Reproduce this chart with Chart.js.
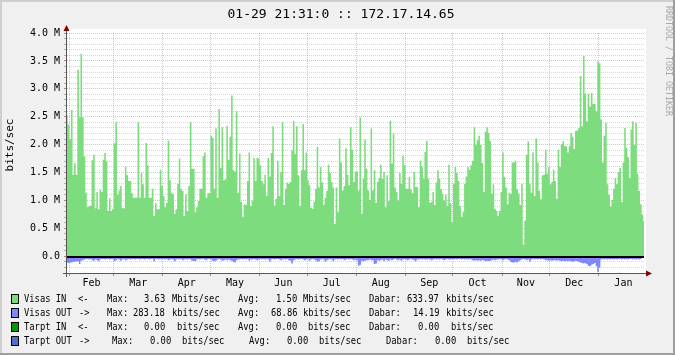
<!DOCTYPE html>
<html>
<head>
<meta charset="utf-8">
<title>01-29 21:31:0 :: 172.17.14.65</title>
<script src="https://cdn.jsdelivr.net/npm/chart.js@4.4.1/dist/chart.umd.min.js"></script>
<style>
  html, body { margin: 0; padding: 0; background: #f0f0f0; }
  canvas { display: block; }
</style>
</head>
<body>
<canvas id="trafficChart" width="675" height="355" style="width:675px;height:355px"></canvas>
<script>
// daily averages, Jan 30 .. Jan 29, in Mbits/sec
const visasIn = [
    2.52, 2.36, 2.10, 2.62, 1.46, 1.67, 1.46, 3.34, 2.49, 3.63,
    2.49, 1.79, 1.14, 0.88, 0.90, 0.91, 1.72, 1.82, 0.86, 1.15,
    0.84, 1.19, 1.15, 1.73, 1.85, 1.70, 0.81, 1.04, 0.81, 0.85,
    2.02, 2.40, 1.10, 1.18, 1.26, 0.86, 0.86, 1.60, 1.45, 1.35,
    1.35, 1.13, 1.05, 1.05, 1.05, 2.40, 1.05, 1.49, 1.29, 1.05,
    2.03, 1.63, 1.05, 1.05, 1.21, 0.72, 0.95, 0.84, 0.84, 1.55,
    1.26,
    1.08, 0.88, 0.96, 2.07, 1.36, 1.14, 1.11, 0.76, 0.84, 1.30,
    1.75, 1.21, 1.17, 0.72, 1.11, 0.81, 1.26, 2.40, 1.57, 1.57,
    0.79, 0.88, 0.99, 1.21, 1.21, 1.79, 1.86, 1.05, 1.13, 1.13,
    2.16, 2.12, 1.21, 2.29, 1.05, 2.64, 1.58, 2.31, 1.36, 1.38,
    2.34, 1.73, 2.14, 2.88, 1.54, 1.52, 2.60, 1.14, 1.84, 0.97,
    0.71, 0.93, 0.92, 1.35, 1.86, 0.90, 1.00, 1.76, 1.35, 1.76,
    1.75,
    1.63, 1.35, 1.29, 1.46, 1.08, 1.76, 1.43, 1.85, 2.33, 0.91,
    1.03, 1.71, 1.08, 1.51, 2.40, 0.92, 1.21, 1.32, 1.30, 1.33,
    1.90, 2.43, 1.83, 2.33, 1.45, 0.90, 1.54, 2.37, 1.54, 1.86,
    1.36, 1.27, 0.87, 0.85, 0.97, 1.21, 1.96, 1.23, 1.60, 1.32,
    0.92, 1.05, 1.17, 1.64, 1.49, 1.33, 1.23, 0.58, 1.23, 0.79,
    2.11, 1.68, 1.18, 1.26, 1.93, 1.46, 1.27, 2.31, 1.91, 1.33,
    1.52,
    1.52, 1.18, 2.49, 0.76, 1.39, 2.09, 1.57, 1.18, 1.01, 2.29,
    1.18, 1.54, 0.96, 1.33, 1.40, 1.64, 1.39, 1.51, 0.88, 1.45,
    0.99, 2.43, 1.66, 2.20, 1.23, 1.15, 1.00, 1.49, 1.30, 1.80,
    1.63, 1.21, 1.21, 1.42, 1.20, 1.13, 1.51, 1.24, 1.24, 0.88,
    1.71, 1.61, 1.39, 1.87, 2.07, 1.39, 0.96, 0.97, 1.15, 0.92,
    1.32, 1.54, 1.39, 1.20, 1.11, 1.00, 1.10, 0.90, 1.64, 0.95,
    0.61, 1.30, 1.60, 1.49, 1.35, 0.90, 0.71, 0.79, 1.30, 1.43,
    1.60, 1.55, 1.63, 1.71, 2.31, 2.00, 2.08, 2.16, 2.00, 1.67,
    1.15, 2.23, 2.31, 2.21, 2.07, 1.12, 1.29, 0.85, 0.81, 0.72,
    0.81, 1.15, 1.86, 1.42, 1.23, 0.93, 1.14, 1.12, 1.68, 1.68,
    1.71, 1.20, 1.12, 0.92, 1.30, 0.21, 0.64, 1.82, 2.06, 1.30,
    1.14, 1.86, 1.08, 2.11, 1.68, 1.17, 1.02, 1.45, 1.46, 1.91,
    1.48, 1.60, 1.29, 1.33, 1.55, 1.35, 1.03, 1.91, 1.60, 2.01,
    2.06, 1.97, 1.97, 1.86, 1.97, 2.21, 2.14, 1.92, 2.25, 2.25,
    2.30, 3.23, 2.33, 3.59, 2.91, 2.42, 2.91, 2.68, 2.93, 2.73,
    2.73, 2.60, 3.49,
    3.46, 2.45, 1.68, 2.16, 2.39, 1.29, 1.10, 0.89, 1.01, 1.21,
    1.40, 1.29, 1.51, 1.58, 0.97, 1.68, 2.30, 1.94, 1.78, 1.40,
    2.27, 2.42, 2.00, 2.39, 1.48, 1.17, 0.93, 0.75, 0.63
];

// outgoing is drawn below zero, like rrdtool does it
const visasOut = [
    -0.11, -0.12, -0.11, -0.11, -0.10, -0.10, -0.09, -0.09, -0.14, -0.08,
    -0.07, -0.06, -0.05, -0.05, -0.06, -0.05, -0.07, -0.08, -0.06, -0.07,
    -0.09, -0.06, -0.05, -0.05, -0.06, -0.05, -0.05, -0.06, -0.05, -0.05,
    -0.09, -0.07, -0.05, -0.06, -0.08, -0.06, -0.05, -0.07, -0.06, -0.05,
    -0.06, -0.05, -0.05, -0.06, -0.05, -0.05, -0.06, -0.05, -0.05, -0.06,
    -0.05, -0.05, -0.06, -0.05, -0.05, -0.09, -0.05, -0.05, -0.06, -0.05,
    -0.06,
    -0.05, -0.06, -0.05, -0.07, -0.06, -0.05, -0.06, -0.09, -0.06, -0.05,
    -0.06, -0.05, -0.07, -0.06, -0.05, -0.06, -0.05, -0.06, -0.08, -0.08,
    -0.09, -0.06, -0.05, -0.06, -0.05, -0.05, -0.06, -0.07, -0.05, -0.05,
    -0.06, -0.08, -0.09, -0.08, -0.06, -0.05, -0.06, -0.08, -0.07, -0.06,
    -0.07, -0.06, -0.07, -0.08, -0.10, -0.11, -0.07, -0.06, -0.06, -0.05,
    -0.06, -0.05, -0.06, -0.05, -0.08, -0.06, -0.06, -0.05, -0.06, -0.07,
    -0.06,
    -0.05, -0.06, -0.05, -0.06, -0.05, -0.06, -0.10, -0.06, -0.05, -0.06,
    -0.05, -0.05, -0.06, -0.07, -0.06, -0.05, -0.06, -0.05, -0.07, -0.08,
    -0.13, -0.07, -0.06, -0.05, -0.06, -0.05, -0.05, -0.06, -0.07, -0.06,
    -0.05, -0.08, -0.06, -0.05, -0.06, -0.07, -0.10, -0.09, -0.06, -0.05,
    -0.06, -0.10, -0.07, -0.06, -0.05, -0.06, -0.09, -0.06, -0.05, -0.06,
    -0.05, -0.06, -0.05, -0.07, -0.06, -0.05, -0.06, -0.05, -0.06, -0.07,
    -0.06,
    -0.07, -0.17, -0.15, -0.08, -0.09, -0.08, -0.07, -0.07, -0.06, -0.07,
    -0.07, -0.14, -0.13, -0.07, -0.08, -0.07, -0.06, -0.09, -0.06, -0.07,
    -0.08, -0.06, -0.07, -0.06, -0.05, -0.06, -0.07, -0.06, -0.08, -0.06,
    -0.05, -0.06, -0.07, -0.06, -0.05, -0.06, -0.07, -0.09, -0.06, -0.06,
    -0.05, -0.06, -0.05, -0.06, -0.06, -0.05, -0.06, -0.07, -0.06, -0.05,
    -0.06, -0.05, -0.06, -0.05, -0.06, -0.07, -0.06, -0.05, -0.06, -0.06,
    -0.05, -0.06, -0.05, -0.06, -0.05, -0.05, -0.06, -0.05, -0.06, -0.05,
    -0.06, -0.05, -0.06, -0.07, -0.08, -0.07, -0.08, -0.07, -0.08, -0.07,
    -0.07, -0.09, -0.08, -0.09, -0.08, -0.07, -0.06, -0.07, -0.06, -0.06,
    -0.05, -0.06, -0.07, -0.06, -0.05, -0.06, -0.07, -0.10, -0.11, -0.11,
    -0.10, -0.11, -0.09, -0.07, -0.06, -0.05, -0.06, -0.07, -0.06, -0.10,
    -0.06, -0.05, -0.06, -0.05, -0.06, -0.05, -0.06, -0.05, -0.06, -0.07,
    -0.07, -0.08, -0.07, -0.08, -0.07, -0.07, -0.08, -0.07, -0.08, -0.09,
    -0.08, -0.09, -0.08, -0.09, -0.08, -0.09, -0.10, -0.09, -0.08, -0.09,
    -0.10, -0.11, -0.12, -0.13, -0.12, -0.14, -0.17, -0.18, -0.15, -0.14,
    -0.12, -0.18, -0.28, -0.20, -0.06, -0.05, -0.06, -0.05, -0.06, -0.05,
    -0.06, -0.05, -0.06, -0.05, -0.06, -0.05, -0.05, -0.06, -0.05, -0.06,
    -0.05, -0.06, -0.05, -0.05, -0.06, -0.05, -0.06, -0.05, -0.06, -0.05,
    -0.03, -0.01
];

const monthNames = ['Feb', 'Mar', 'Apr', 'May', 'Jun', 'Jul', 'Aug', 'Sep', 'Oct', 'Nov', 'Dec', 'Jan'];
// first day of each month, counted from Jan 30 (last one = next Feb 1)
const monthStartDays = [2, 30, 61, 91, 122, 152, 183, 214, 244, 275, 305, 336, 367];

const yTickValues = [0, 0.5, 1.0, 1.5, 2.0, 2.5, 3.0, 3.5, 4.0];
const yTickLabels = ['0.0', '0.5 M', '1.0 M', '1.5 M', '2.0 M', '2.5 M', '3.0 M', '3.5 M', '4.0 M'];

const chartTitle = '01-29 21:31:0 :: 172.17.14.65';
const yTitle = 'bits/sec';
const watermark = 'RRDTOOL / TOBI OETIKER';

const legendColors = ['#7ddc7d', '#8088f8', '#009a00', '#5070d0'];
const legendText = [
    ['Visas IN', '<-', 'Max:', '3.63', 'Mbits/sec', 'Avg:', '1.50', 'Mbits/sec', 'Dabar:', '633.97', 'kbits/sec'],
    ['Visas OUT', '->', 'Max:', '283.18', 'kbits/sec', 'Avg:', '68.86', 'kbits/sec', 'Dabar:', '14.19', 'kbits/sec'],
    ['Tarpt IN', '<-', 'Max:', '0.00', 'bits/sec', 'Avg:', '0.00', 'bits/sec', 'Dabar:', '0.00', 'bits/sec'],
    ['Tarpt OUT', '->', 'Max:', '0.00', 'bits/sec', 'Avg:', '0.00', 'bits/sec', 'Dabar:', '0.00', 'bits/sec']
];


const MONO = '"DejaVu Sans Mono", monospace';
const GRID = 'rgba(130,130,130,0.32)';
const MGRID = 'rgba(210,40,40,0.32)';
const NONE = 'rgba(0,0,0,0)';

Chart.defaults.font.family = MONO;

// x ticks: month boundaries carry the grid, mid-month carries the name
const xTicks = [];
monthNames.forEach((name, i) => {
    const start = monthStartDays[i] - 0.5;
    const next = monthStartDays[i + 1] - 0.5;
    xTicks.push({ value: start, grid: true, name: '' });
    xTicks.push({ value: (start + next) / 2, grid: false, name: name });
});

const yTicks = [];
for (let k = -3; k <= 40; k++) yTicks.push({ value: k / 10 });

function isMajor(v) {
    return Math.abs(v * 2 - Math.round(v * 2)) < 1e-6;
}

const rrdLook = {
    id: 'rrdLook',
    beforeDraw(chart) {
        const { ctx, chartArea: a } = chart;
        const W = chart.width, H = chart.height;
        ctx.save();
        ctx.fillStyle = '#f0f0f0';
        ctx.fillRect(0, 0, W, H);
        ctx.fillStyle = '#cfcfcf';
        ctx.fillRect(0, 0, W, 2);
        ctx.fillRect(0, 0, 2, H);
        ctx.fillStyle = '#9e9e9e';
        ctx.fillRect(0, H - 2, W, 2);
        ctx.fillRect(W - 2, 0, 2, H);
        ctx.fillStyle = '#ffffff';
        ctx.fillRect(a.left, a.top - 4, a.right - a.left + 2, a.bottom - a.top + 4);
        ctx.restore();
    },
    afterDraw(chart) {
        const { ctx, chartArea: a } = chart;
        const y0 = chart.scales.y.getPixelForValue(0);
        ctx.save();

        // zero line
        ctx.fillStyle = '#000';
        ctx.fillRect(a.left, Math.floor(y0), a.right - a.left, 2);

        // axes + arrows
        ctx.strokeStyle = '#555';
        ctx.lineWidth = 1;
        ctx.beginPath();
        ctx.moveTo(a.left - 0.5, a.top - 4);
        ctx.lineTo(a.left - 0.5, a.bottom + 4);
        ctx.moveTo(a.left - 4, a.bottom + 0.5);
        ctx.lineTo(a.right + 3, a.bottom + 0.5);
        ctx.stroke();
        ctx.fillStyle = '#800000';
        ctx.beginPath();
        ctx.moveTo(a.left - 3.5, a.top - 2);
        ctx.lineTo(a.left + 2.5, a.top - 2);
        ctx.lineTo(a.left - 0.5, a.top - 8);
        ctx.closePath();
        ctx.fill();
        ctx.beginPath();
        ctx.moveTo(a.right + 2, a.bottom - 2.5);
        ctx.lineTo(a.right + 2, a.bottom + 3.5);
        ctx.lineTo(a.right + 8, a.bottom + 0.5);
        ctx.closePath();
        ctx.fill();

        // title
        ctx.fillStyle = '#000';
        ctx.textAlign = 'center';
        ctx.textBaseline = 'middle';
        ctx.font = '13px ' + MONO;
        ctx.fillText(chartTitle, 341, 15);

        // vertical axis title
        ctx.save();
        ctx.translate(10, 145);
        ctx.rotate(-Math.PI / 2);
        ctx.font = '11px ' + MONO;
        ctx.fillText(yTitle, 0, 0);
        ctx.restore();

        // watermark on the right
        ctx.save();
        ctx.translate(668, 6);
        ctx.rotate(Math.PI / 2);
        ctx.textAlign = 'left';
        ctx.fillStyle = '#a8a8a8';
        ctx.font = '9px ' + MONO;
        ctx.fillText(watermark, 0, 0, 110);
        ctx.restore();

        // legend
        const cols = [
            [24, 78, 107, 144, 172, 238, 276, 303, 369, 407, 446],
            [24, 79, 107, 133, 172, 238, 271, 303, 369, 413, 446],
            [24, 78, 107, 144, 177, 238, 276, 308, 369, 418, 451],
            [24, 79, 112, 150, 182, 249, 287, 319, 386, 435, 467]
        ];
        ctx.font = '11px ' + MONO;
        ctx.textAlign = 'left';
        legendText.forEach((row, r) => {
            const yc = 299 + r * 14;
            ctx.fillStyle = legendColors[r];
            ctx.fillRect(12, yc - 4, 6, 8);
            ctx.strokeStyle = '#000';
            ctx.strokeRect(11.5, yc - 4.5, 7, 9);
            ctx.fillStyle = '#000';
            row.forEach((txt, c) => {
                ctx.fillText(txt, cols[r][c], yc, txt.length * 5.3);
            });
        });

        ctx.restore();
    }
};

new Chart(document.getElementById('trafficChart'), {
    type: 'line',
    data: {
        datasets: [{
            label: 'Visas IN',
            data: visasIn.map((v, i) => ({ x: i, y: v })),
            stepped: 'middle',
            fill: 'origin',
            backgroundColor: legendColors[0],
            borderColor: NONE,
            borderWidth: 1,
            pointRadius: 0
        }, {
            label: 'Visas OUT',
            data: visasOut.map((v, i) => ({ x: i, y: v })),
            stepped: 'middle',
            fill: 'origin',
            backgroundColor: legendColors[1],
            borderColor: NONE,
            borderWidth: 1,
            pointRadius: 0
        }]
    },
    options: {
        responsive: false,
        animation: false,
        devicePixelRatio: 1,
        layout: { padding: { left: 0, top: 33, right: 31, bottom: 62 } },
        plugins: {
            legend: { display: false },
            tooltip: { enabled: false }
        },
        scales: {
            x: {
                type: 'linear',
                min: 0,
                max: visasIn.length - 1,
                z: 1,
                afterBuildTicks: s => { s.ticks = xTicks.map(t => ({ ...t })); },
                afterFit: s => { s.height = 20; },
                grid: {
                    color: c => (c.tick && c.tick.grid ? MGRID : NONE),
                    tickColor: c => (c.tick && c.tick.grid ? '#c08080' : NONE),
                    tickLength: 3,
                    lineWidth: 1
                },
                border: { display: false, dash: [1, 1] },
                ticks: {
                    autoSkip: false,
                    maxRotation: 0,
                    padding: 1,
                    color: '#000',
                    font: { size: 10 },
                    callback: (v, i, ticks) => ticks[i].name
                }
            },
            y: {
                min: -0.3,
                max: 4.0,
                z: 1,
                afterBuildTicks: s => { s.ticks = yTicks.map(t => ({ ...t })); },
                afterFit: s => { s.width = 67; },
                grid: {
                    color: c => (isMajor(c.tick.value) ? MGRID : GRID),
                    tickColor: c => (isMajor(c.tick.value) ? '#c08080' : '#b0b0b0'),
                    tickLength: 3,
                    lineWidth: 1
                },
                border: { display: false, dash: [1, 1] },
                ticks: {
                    autoSkip: false,
                    padding: 4,
                    color: '#000',
                    font: { size: 10 },
                    callback: v => {
                        const idx = yTickValues.findIndex(t => Math.abs(t - v) < 1e-6);
                        return idx >= 0 ? yTickLabels[idx] : '';
                    }
                }
            }
        }
    },
    plugins: [rrdLook]
});
</script>
</body>
</html>
